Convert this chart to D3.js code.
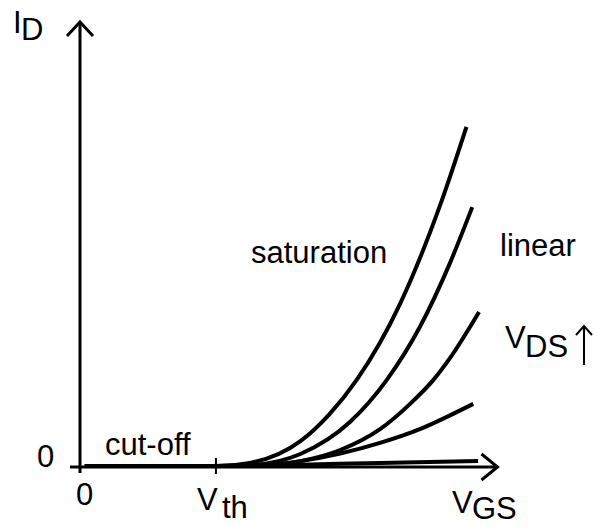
<!DOCTYPE html>
<html>
<head>
<meta charset="utf-8">
<script src="https://cdn.jsdelivr.net/npm/d3@7"></script>
<style>
  html, body { margin: 0; padding: 0; background: #fff; }
  svg { display: block; }
  text { font-family: "Liberation Sans", Arial, Helvetica, sans-serif; fill: #000; }
</style>
</head>
<body>
<script>
// ---- data (arbitrary units: VGS on x, ID on y) ----
const vth = 1.4;
const curveC1 = [[0.05,0],[1.40,0],[1.75,0.07],[2.27,0.56],[2.57,1.17],[2.85,1.94],[3.30,3.67],[3.71,5.88],[3.98,7.64]];
const curveC2 = [[0.05,0],[1.40,0],[1.75,0.02],[2.27,0.27],[2.78,0.99],[3.16,1.94],[3.50,3.13],[3.81,4.57],[4.04,5.83]];
const curveC3 = [[0.05,0],[1.40,0],[1.75,0.0],[2.27,0.11],[2.68,0.36],[3.09,0.83],[3.40,1.40],[3.64,1.94],[3.81,2.43],[4.11,3.47]];
const curveC4 = [[0.05,0],[1.40,0],[1.75,0.0],[2.27,0.11],[2.68,0.28],[3.09,0.52],[3.50,0.83],[3.81,1.14],[4.05,1.40]];
const curveC5 = [[0.05,0],[1.40,0],[2.27,0.03],[3.09,0.07],[4.10,0.11]];
const curves = [curveC1, curveC2, curveC3, curveC4, curveC5];
const regionLabels = ["saturation", "linear", "cut-off"];
const xTickLabels = ["0"];
const yTickLabels = ["0"];

// ---- layout ----
const W = 595, H = 527;
const x = d3.scaleLinear().domain([0, 4.3]).range([80, 497.5]);
const y = d3.scaleLinear().domain([0, 10]).range([466, 22]);

const svg = d3.select("body").append("svg").attr("width", W).attr("height", H);

// axes
const axisG = svg.append("g").attr("stroke", "#000").attr("fill", "none")
  .attr("stroke-width", 3).attr("stroke-linecap", "butt");
axisG.append("line").attr("x1", x(0) - 10).attr("x2", x.range()[1] - 1)
  .attr("y1", y(0) + 1).attr("y2", y(0) + 1);
axisG.append("path")
  .attr("d", `M${x.range()[1] - 16},${y(0) - 12} L${x.range()[1]},${y(0) + 1} L${x.range()[1] - 16},${y(0) + 14}`);
axisG.append("line").attr("x1", x(0)).attr("x2", x(0))
  .attr("y1", y(0) + 7).attr("y2", y.range()[1] + 1);
axisG.append("path")
  .attr("d", `M${x(0) - 13},${y.range()[1] + 14} L${x(0)},${y.range()[1]} L${x(0) + 13},${y.range()[1] + 14}`);
axisG.append("line").attr("stroke-width", 2)
  .attr("x1", x(vth)).attr("x2", x(vth)).attr("y1", y(0) - 8).attr("y2", y(0) + 8);

// curves
const line = d3.line().x(d => x(d[0])).y(d => y(d[0] < vth ? 0 : d[1])).curve(d3.curveMonotoneX);
svg.append("g").selectAll("path").data(curves).join("path")
  .attr("d", line).attr("fill", "none").attr("stroke", "#000")
  .attr("stroke-width", 4).attr("stroke-linecap", "butt");

// text
const fs = 31;
function txt(str, px, py) {
  return svg.append("text").attr("x", px).attr("y", py).attr("font-size", fs).text(str);
}
txt("I", 13, 33);
txt("D", 21, 40);
txt(yTickLabels[0], 37, 467);
txt(xTickLabels[0], 76, 505);
txt("V", 197, 510);
txt("th", 222, 518);
txt("V", 452, 513);
txt("GS", 472, 519);
txt("V", 505, 348);
txt("DS", 525, 357);
// VDS increasing arrow
svg.append("path").attr("fill", "none").attr("stroke", "#000").attr("stroke-width", 2)
  .attr("d", "M584,365 L584,326 M576,335 L584,326 L592,335");
txt(regionLabels[0], 251, 263);
txt(regionLabels[1], 500, 256);
txt(regionLabels[2], 105, 455);
</script>
</body>
</html>
